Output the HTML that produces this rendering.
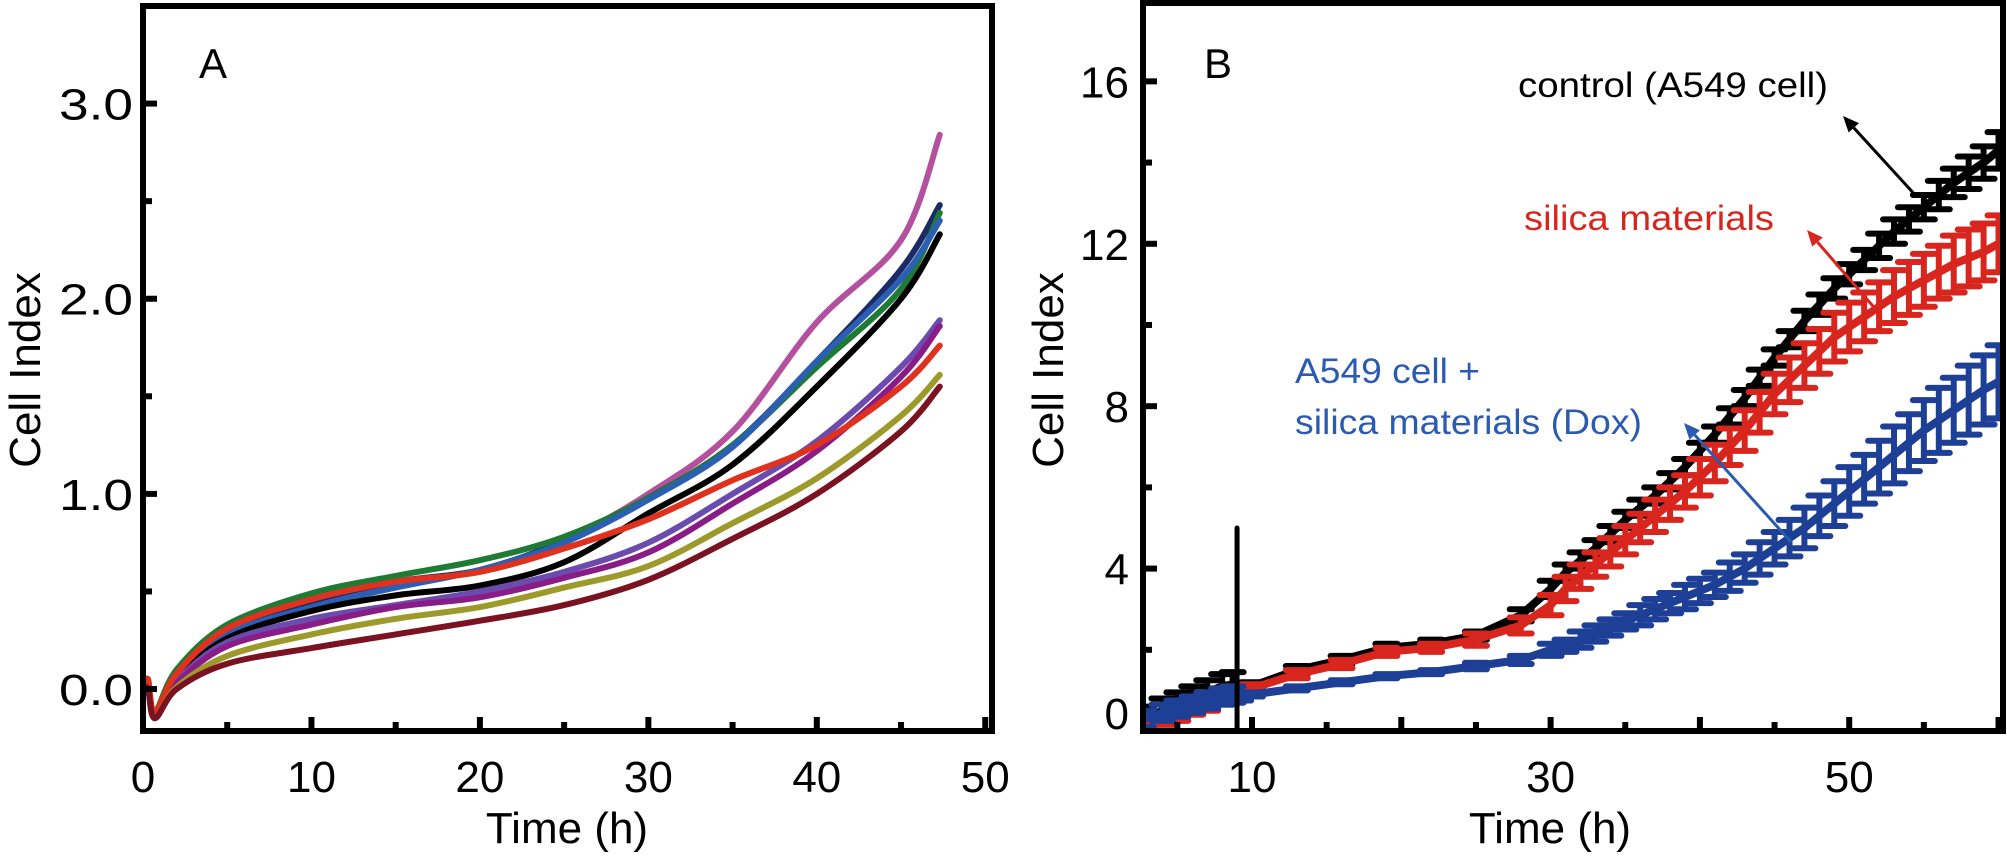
<!DOCTYPE html>
<html><head><meta charset="utf-8"><style>
html,body{margin:0;padding:0;background:#fff;}
svg{display:block;font-family:"Liberation Sans",sans-serif;}
</style></head><body>
<svg id="fig" width="2007" height="859" viewBox="0 0 2007 859" xmlns="http://www.w3.org/2000/svg">
<g id="pa"></g>
<g id="pb"></g>
</svg>
<script>
// ---- Panel A data ----
const aTimes = [0,0.3,0.7,2,5,10,15,20,25,30,35,40,45,47.3];
const aNames = ['magenta','navy','green','blue','black','violet','purple','red','olive','maroon'];
const aColors = ['#b4519f','#1c2a66','#1f7a34','#2b5fb3','#000000','#6b4cae','#8a1c88','#e0311f','#9c9a2b','#7b1222'];
const aMagenta = [0.0,0.02,-0.13,0.05,0.27,0.42,0.53,0.61,0.76,1.0,1.32,1.88,2.3,2.84];
const aNavy    = [0.0,0.02,-0.13,0.07,0.30,0.45,0.55,0.61,0.76,0.98,1.25,1.68,2.15,2.48];
const aGreen   = [0.0,0.02,-0.12,0.10,0.33,0.49,0.58,0.66,0.78,0.98,1.25,1.65,2.05,2.44];
const aBlue    = [0.0,0.02,-0.13,0.06,0.28,0.42,0.52,0.61,0.75,0.97,1.24,1.68,2.1,2.40];
const aBlack   = [0.0,0.02,-0.13,0.05,0.26,0.40,0.48,0.53,0.65,0.90,1.15,1.55,2.0,2.33];
const aViolet  = [0.0,0.01,-0.14,0.04,0.24,0.36,0.43,0.50,0.60,0.75,1.0,1.27,1.65,1.89];
const aPurple  = [0.0,0.01,-0.14,0.03,0.22,0.33,0.42,0.47,0.57,0.70,0.95,1.22,1.6,1.86];
const aRed     = [0.0,0.05,-0.12,0.08,0.31,0.46,0.55,0.60,0.72,0.87,1.07,1.25,1.55,1.76];
const aOlive   = [0.0,0.0,-0.15,0.01,0.17,0.28,0.36,0.42,0.52,0.63,0.85,1.08,1.40,1.61];
const aMaroon  = [0.0,0.0,-0.15,0.0,0.13,0.21,0.28,0.35,0.43,0.56,0.77,1.0,1.32,1.55];
const aSeries = [aMagenta,aNavy,aGreen,aBlue,aBlack,aViolet,aPurple,aRed,aOlive,aMaroon];
const aXTicks = [0,10,20,30,40,50];
const aYTicks = [0,1,2,3];
const aYTickLabels = ['0.0','1.0','2.0','3.0'];

// ---- Panel B data ----
const bTimes = [2.7,4,5,6,7,8,8.7,9.2,10,13,16,19,22,25,28,30,31,32,33,34,35,36,37,38,39,40,41,42,43,44,45,46,47,48,49,50,51,52,53,54,55,56,57,58,59,60];
const bControl = [0.3,0.5,0.65,0.8,0.95,1.1,1.15,0.9,1.1,1.5,1.75,2.05,2.15,2.35,2.85,3.5,3.9,4.2,4.5,4.85,5.2,5.5,5.8,6.15,6.5,6.9,7.3,7.75,8.2,8.7,9.2,9.65,10.1,10.5,10.9,11.25,11.6,11.95,12.3,12.6,12.9,13.2,13.5,13.75,14.0,14.3];
const bControlErr = [0.3,0.3,0.3,0.3,0.3,0.3,0.3,0.1,0.1,0.1,0.1,0.1,0.1,0.1,0.15,0.2,0.2,0.2,0.2,0.2,0.2,0.2,0.2,0.2,0.2,0.2,0.2,0.2,0.2,0.2,0.2,0.2,0.25,0.25,0.25,0.25,0.25,0.3,0.3,0.3,0.3,0.35,0.35,0.4,0.4,0.45];
const bSilica = [0.1,0.25,0.35,0.5,0.6,0.75,0.8,0.85,1.05,1.4,1.65,1.95,2.05,2.25,2.6,3.1,3.5,3.8,4.1,4.4,4.7,5.0,5.3,5.6,5.9,6.25,6.6,7.0,7.4,7.85,8.3,8.65,9.0,9.35,9.7,9.95,10.2,10.45,10.7,10.9,11.1,11.3,11.5,11.65,11.8,12.0];
const bSilicaErr = [0.1,0.1,0.1,0.1,0.1,0.1,0.1,0.1,0.1,0.1,0.1,0.1,0.1,0.15,0.2,0.25,0.3,0.3,0.3,0.35,0.35,0.35,0.4,0.4,0.4,0.45,0.45,0.45,0.5,0.5,0.5,0.55,0.55,0.55,0.6,0.6,0.6,0.6,0.65,0.65,0.65,0.65,0.7,0.7,0.7,0.7];
const bDox = [0.3,0.45,0.55,0.65,0.75,0.85,0.9,0.85,0.9,1.05,1.2,1.35,1.45,1.6,1.75,2.0,2.1,2.25,2.4,2.55,2.7,2.85,3.0,3.15,3.3,3.45,3.6,3.8,4.0,4.25,4.5,4.75,5.0,5.3,5.6,5.9,6.2,6.5,6.8,7.1,7.4,7.65,7.9,8.15,8.4,8.6];
const bDoxErr = [0.2,0.2,0.2,0.2,0.2,0.2,0.2,0.1,0.05,0.05,0.05,0.05,0.05,0.08,0.1,0.15,0.15,0.2,0.2,0.2,0.2,0.25,0.25,0.25,0.3,0.3,0.3,0.35,0.35,0.4,0.4,0.45,0.5,0.5,0.55,0.6,0.6,0.65,0.7,0.7,0.75,0.8,0.8,0.85,0.85,0.9];
const bXTicks = [10,30,50];
const bYTicks = [0,4,8,12,16];

const NS='http://www.w3.org/2000/svg';
function mk(parent,tag,attrs){const e=document.createElementNS(NS,tag);for(const k in attrs)e.setAttribute(k,attrs[k]);parent.appendChild(e);return e;}
function smoothPath(pts){
  let d='M'+pts[0][0].toFixed(1)+','+pts[0][1].toFixed(1);
  for(let i=0;i<pts.length-1;i++){
    const p0=pts[Math.max(0,i-1)],p1=pts[i],p2=pts[i+1],p3=pts[Math.min(pts.length-1,i+2)];
    const c1x=p1[0]+(p2[0]-p0[0])/6,c1y=p1[1]+(p2[1]-p0[1])/6;
    const c2x=p2[0]-(p3[0]-p1[0])/6,c2y=p2[1]-(p3[1]-p1[1])/6;
    d+=`C${c1x.toFixed(1)},${c1y.toFixed(1)} ${c2x.toFixed(1)},${c2y.toFixed(1)} ${p2[0].toFixed(1)},${p2[1].toFixed(1)}`;
  }
  return d;
}

const A={l:143,r:992,t:6,b:731,x0:0,x1:50.4,y0:-0.215,y1:3.5};
const ax=v=>A.l+(v-A.x0)/(A.x1-A.x0)*(A.r-A.l);
const ay=v=>A.b-(v-A.y0)/(A.y1-A.y0)*(A.b-A.t);
const B={l:1143,r:2003,t:3,b:731,x0:2.7,x1:60.3,y0:0,y1:17.93};
const bx=v=>B.l+(v-B.x0)/(B.x1-B.x0)*(B.r-B.l);
const by=v=>B.b-(v-B.y0)/(B.y1-B.y0)*(B.b-B.t);

const pa=document.getElementById('pa');
const pb=document.getElementById('pb');

aSeries.forEach((s,i)=>{
  const pts=s.map((v,j)=>[ax(aTimes[j]),ay(v)]);
  const p=mk(pa,'path',{d:smoothPath(pts),fill:'none',stroke:aColors[i],'stroke-width':6,'stroke-linejoin':'round','stroke-linecap':'round'});
  
  
});
const fa=mk(pa,'rect',{x:A.l,y:A.t,width:A.r-A.l,height:A.b-A.t,fill:'none',stroke:'#000','stroke-width':6});


for(let v=0;v<=50;v+=5){const X=ax(v);const L=(v%10===0)?14:9;
  const t=mk(pa,'line',{x1:X,x2:X,y1:A.b,y2:A.b-L,stroke:'#000','stroke-width':6});
  
  }
aXTicks.forEach(v=>{const t=mk(pa,'text',{x:ax(v),y:792,'font-size':44,'text-anchor':'middle'});t.textContent=v;
  
  });
for(let v=0;v<=3.5;v+=0.5){const Y=ay(v);const L=(Math.abs(v-Math.round(v))<1e-6)?14:9;
  const t=mk(pa,'line',{x1:A.l,x2:A.l+L,y1:Y,y2:Y,stroke:'#000','stroke-width':6});
  
  }
aYTicks.forEach((v,i)=>{const t=mk(pa,'text',{x:A.l-10,y:ay(v)+16,'font-size':44,'text-anchor':'end',textLength:74,lengthAdjust:'spacingAndGlyphs'});t.textContent=aYTickLabels[i];
  
  });
let tt=mk(pa,'text',{x:567,y:843,'font-size':44,'text-anchor':'middle'});tt.textContent='Time (h)';


tt=mk(pa,'text',{x:40,y:370,'font-size':44,'text-anchor':'middle',transform:'rotate(-90 40 370)'});tt.textContent='Cell Index';


tt=mk(pa,'text',{x:199,y:78,'font-size':42});tt.textContent='A';



const clip=mk(pb,'clipPath',{id:'cb'});mk(clip,'rect',{x:B.l,y:B.t,width:B.r-B.l,height:B.b-B.t});
const gb=mk(pb,'g',{'clip-path':'url(#cb)'});


const bSeries=[[bControl,bControlErr,'#000000','control'],[bSilica,bSilicaErr,'#d8261f','silica'],[bDox,bDoxErr,'#1d3f96','dox']];
bSeries.forEach(([s,e,c,n])=>{
  const g=mk(gb,'g',{});
  
  
  const d=s.map((v,j)=>(j?'L':'M')+bx(bTimes[j]).toFixed(1)+','+by(v).toFixed(1)).join('');
  mk(g,'path',{d:d,fill:'none',stroke:c,'stroke-width':8,'stroke-linejoin':'round'});
  s.forEach((v,j)=>{const X=bx(bTimes[j]),Y1=by(v+e[j]),Y2=by(v-e[j]);
    const eb=mk(g,'path',{d:`M${X},${Y1}V${Y2}M${X-11},${Y1}H${X+11}M${X-11},${Y2}H${X+11}`,stroke:c,'stroke-width':6,'stroke-linecap':'round',fill:'none'});
    
    });
});
const fb=mk(pb,'rect',{x:B.l,y:B.t,width:B.r-B.l,height:B.b-B.t,fill:'none',stroke:'#000','stroke-width':6});


const vl=mk(pb,'line',{x1:bx(9),x2:bx(9),y1:by(5),y2:B.b,stroke:'#000','stroke-width':5,'stroke-linecap':'round'});


for(let v=5;v<=60;v+=5){const X=bx(v);const L=(v%10===0)?14:9;
  const t=mk(pb,'line',{x1:X,x2:X,y1:B.b,y2:B.b-L,stroke:'#000','stroke-width':6});
  
  }
bXTicks.forEach(v=>{const t=mk(pb,'text',{x:bx(v),y:792,'font-size':44,'text-anchor':'middle'});t.textContent=v;
  
  });
for(let v=2;v<=17;v+=2){const Y=by(v);const L=(v%4===0)?14:9;
  const t=mk(pb,'line',{x1:B.l,x2:B.l+L,y1:Y,y2:Y,stroke:'#000','stroke-width':6});
  
  }
bYTicks.forEach(v=>{const t=mk(pb,'text',{x:B.l-14,y:(v===0?by(v)-2:by(v)+16),'font-size':44,'text-anchor':'end'});t.textContent=v;
  
  });
tt=mk(pb,'text',{x:1550,y:843,'font-size':44,'text-anchor':'middle'});tt.textContent='Time (h)';


tt=mk(pb,'text',{x:1063,y:370,'font-size':44,'text-anchor':'middle',transform:'rotate(-90 1063 370)'});tt.textContent='Cell Index';


tt=mk(pb,'text',{x:1204,y:78,'font-size':42});tt.textContent='B';


const ann=[['control (A549 cell)',1518,97,'#000','label-control',310],['silica materials',1524,230,'#d8261f','label-silica',250],['A549 cell +',1295,383,'#2a5bb0','label-dox-1',185],['silica materials (Dox)',1295,434,'#2a5bb0','label-dox-2',347]];
ann.forEach(([s,x,y,c,n,w])=>{const t=mk(pb,'text',{x:x,y:y,'font-size':35,fill:c,textLength:w,lengthAdjust:'spacingAndGlyphs'});t.textContent=s;
  
  });
const arr=[[1917,197,1843,116,'#000','arrow-control'],[1878,312,1807,230,'#d8261f','arrow-silica'],[1791,542,1684,423,'#2a5bb0','arrow-dox']];
arr.forEach(([x1,y1,x2,y2,c,n])=>{const g=mk(pb,'g',{});
  
  
  const ang=Math.atan2(y2-y1,x2-x1),L=16,W=7;
  const bxp=x2-L*Math.cos(ang),byp=y2-L*Math.sin(ang);
  mk(g,'line',{x1:x1,y1:y1,x2:bxp,y2:byp,stroke:c,'stroke-width':3});
  mk(g,'polygon',{points:`${x2},${y2} ${bxp+W*Math.sin(ang)},${byp-W*Math.cos(ang)} ${bxp-W*Math.sin(ang)},${byp+W*Math.cos(ang)}`,fill:c});
});
</script>
</body></html>
